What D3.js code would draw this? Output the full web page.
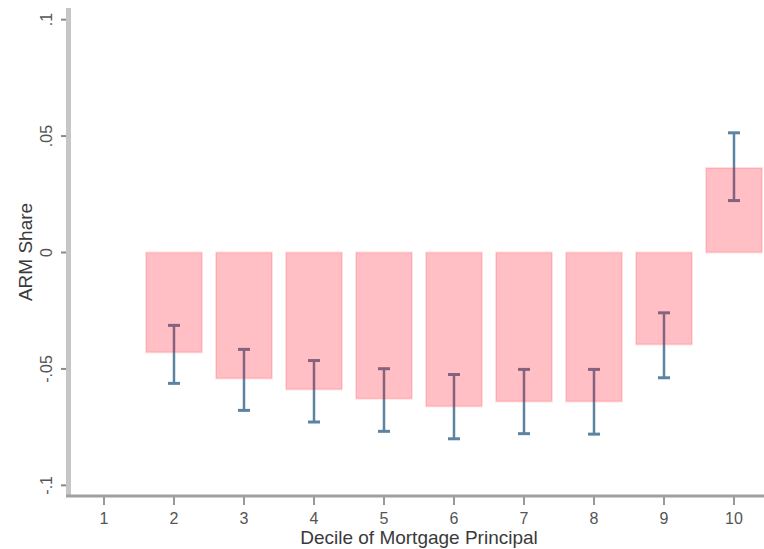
<!DOCTYPE html>
<html>
<head>
<meta charset="utf-8">
<script src="https://cdn.jsdelivr.net/npm/d3@7"></script>
<style>
  html, body { margin: 0; padding: 0; background: #fff; }
  svg { display: block; font-family: "Liberation Sans", Arial, sans-serif; }
</style>
</head>
<body>
<svg id="chart" width="764" height="549"></svg>
<script>
// Deciles of mortgage principal (decile 1 is the omitted reference group)
const deciles = [1, 2, 3, 4, 5, 6, 7, 8, 9, 10];
const barDeciles = [2, 3, 4, 5, 6, 7, 8, 9, 10];
// Estimated effect on ARM share, by decile
const estimates = [-0.0429, -0.0541, -0.0588, -0.0628, -0.0661, -0.0640, -0.0640, -0.0395, 0.0363];
// Confidence interval bounds
const ciLow  = [-0.0562, -0.0678, -0.0728, -0.0768, -0.0800, -0.0778, -0.0780, -0.0538, 0.0223];
const ciHigh = [-0.0313, -0.0416, -0.0464, -0.0499, -0.0524, -0.0502, -0.0502, -0.0259, 0.0514];
// Y tick values and their labels
const yTicks = [-0.1, -0.05, 0, 0.05, 0.1];
const yTickLabels = ["-.1", "-.05", "0", ".05", ".1"];

const svg = d3.select("#chart");

const x = d3.scaleLinear().domain([0.5, 10.5]).range([69, 769]);
const y = d3.scaleLinear().domain([-0.105, 0.105]).range([497, 8]);
const barW = x(0.8) - x(0);

const rows = barDeciles.map((d, i) => ({ d, v: estimates[i], lo: ciLow[i], hi: ciHigh[i] }));

// Confidence intervals (drawn first; the translucent bars sit over them)
const eb = svg.append("g").attr("class", "errbars");
const ebColor = "#5c84a2";
const capW = 12;
eb.selectAll("line.stem").data(rows).join("line")
  .attr("class", "stem")
  .attr("x1", r => x(r.d)).attr("x2", r => x(r.d))
  .attr("y1", r => y(r.hi)).attr("y2", r => y(r.lo))
  .attr("stroke", ebColor).attr("stroke-width", 2.5);
eb.selectAll("line.capHi").data(rows).join("line")
  .attr("class", "capHi")
  .attr("x1", r => x(r.d) - capW / 2).attr("x2", r => x(r.d) + capW / 2)
  .attr("y1", r => y(r.hi)).attr("y2", r => y(r.hi))
  .attr("stroke", ebColor).attr("stroke-width", 3);
eb.selectAll("line.capLo").data(rows).join("line")
  .attr("class", "capLo")
  .attr("x1", r => x(r.d) - capW / 2).attr("x2", r => x(r.d) + capW / 2)
  .attr("y1", r => y(r.lo)).attr("y2", r => y(r.lo))
  .attr("stroke", ebColor).attr("stroke-width", 3);

// Bars
svg.append("g").attr("class", "bars")
  .selectAll("rect").data(rows).join("rect")
  .attr("x", r => x(r.d) - barW / 2)
  .attr("width", barW)
  .attr("y", r => y(Math.max(0, r.v)))
  .attr("height", r => Math.abs(y(r.v) - y(0)))
  .attr("fill", "rgba(255, 0, 20, 0.25)")
  .attr("stroke", "rgba(255, 40, 60, 0.14)")
  .attr("stroke-width", 2);

// Y axis
const yAxisG = svg.append("g").attr("class", "y-axis");
yAxisG.append("line")
  .attr("x1", 68.5).attr("x2", 68.5).attr("y1", y.range()[1]).attr("y2", y.range()[0])
  .attr("stroke", "#c6c6c6").attr("stroke-width", 5);
yAxisG.selectAll("line.tick").data(yTicks).join("line")
  .attr("class", "tick")
  .attr("x1", 61).attr("x2", 66)
  .attr("y1", d => y(d)).attr("y2", d => y(d))
  .attr("stroke", "#8a8a8a").attr("stroke-width", 2);
yAxisG.selectAll("text").data(yTicks).join("text")
  .attr("transform", d => `translate(52,${y(d)}) rotate(-90)`)
  .attr("text-anchor", "middle")
  .attr("font-size", 16)
  .attr("fill", "#555")
  .text((d, i) => yTickLabels[i]);

// X axis
const xAxisG = svg.append("g").attr("class", "x-axis");
xAxisG.append("line")
  .attr("x1", 66).attr("x2", 764).attr("y1", 496).attr("y2", 496)
  .attr("stroke", "#a0a0a0").attr("stroke-width", 3);
xAxisG.selectAll("line.tick").data(deciles).join("line")
  .attr("class", "tick")
  .attr("x1", d => x(d)).attr("x2", d => x(d))
  .attr("y1", 497).attr("y2", 505)
  .attr("stroke", "#999").attr("stroke-width", 2);
xAxisG.selectAll("text").data(deciles).join("text")
  .attr("x", d => x(d)).attr("y", 524)
  .attr("text-anchor", "middle")
  .attr("font-size", 16)
  .attr("fill", "#555")
  .text(d => d);

// Axis titles
svg.append("text")
  .attr("x", 419).attr("y", 544)
  .attr("text-anchor", "middle")
  .attr("font-size", 19)
  .attr("fill", "#3a3a3a")
  .text("Decile of Mortgage Principal");
svg.append("text")
  .attr("transform", "translate(32,252) rotate(-90)")
  .attr("text-anchor", "middle")
  .attr("font-size", 19)
  .attr("fill", "#3a3a3a")
  .text("ARM Share");
</script>
</body>
</html>
